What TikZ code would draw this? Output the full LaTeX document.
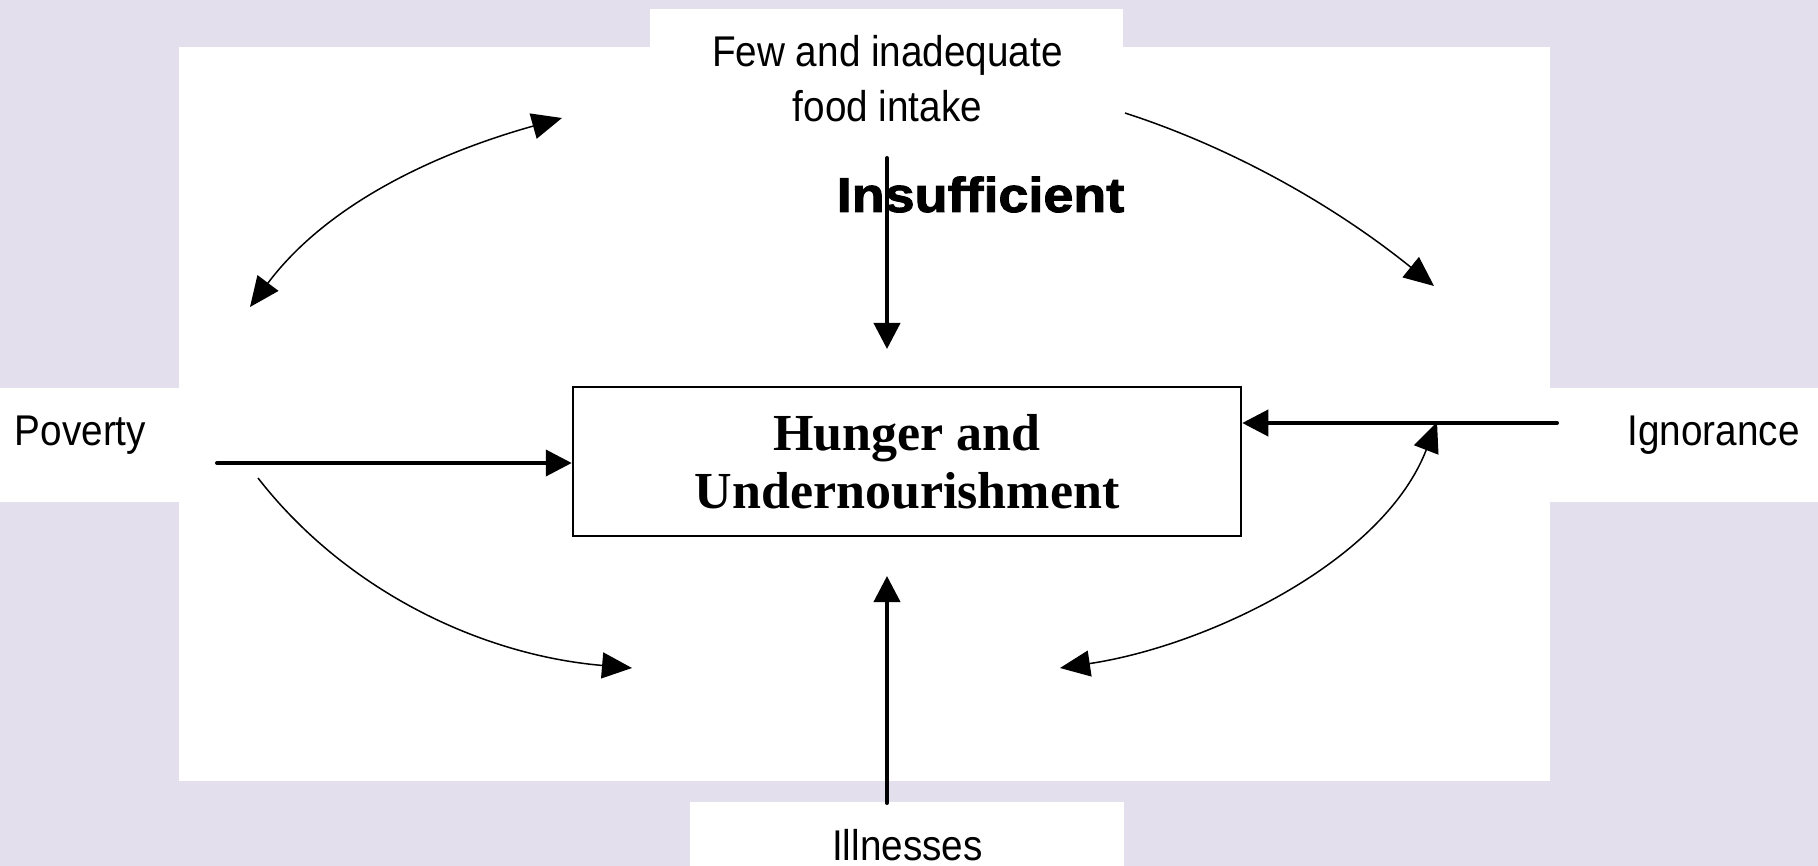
\documentclass[tikz,border=0pt]{standalone}
\usepackage{fontspec}
\setmainfont{Liberation Serif}
\newfontfamily\labfont[FakeStretch=0.9]{Liberation Sans}
\newfontfamily\insfont[FakeStretch=1.1,FakeBold=2]{Liberation Sans}
\usetikzlibrary{arrows.meta}
\definecolor{lav}{RGB}{228,223,236}
\begin{document}
\begin{tikzpicture}[x=1pt,y=-1pt,
  lab/.style={font=\labfont\fontsize{43}{55}\selectfont, inner sep=0pt, align=center},
  panel/.style={fill=white},
  mainarrow/.style={line width=4pt, line cap=round, -{Triangle[length=26pt,width=26pt,fill=black]}},
  cyc/.style={line width=1.5pt, -{Triangle[length=30pt,width=26pt,fill=black]}},
  cyctwo/.style={line width=1.5pt, {Triangle[length=30pt,width=26pt,fill=black]}-{Triangle[length=30pt,width=26pt,fill=black]}},
]
\useasboundingbox (0,0) rectangle (1818,866);
% background
\fill[lav] (0,0) rectangle (1818,866);
\fill[panel] (179,47) rectangle (1550,781);
\fill[panel] (650,9) rectangle (1123,50);
\fill[panel] (0,388) rectangle (182,502);
\fill[panel] (1547,388) rectangle (1818,502);
\fill[panel] (690,802) rectangle (1124,866);

% labels
\node[lab, anchor=base] (poverty) at (80.5,446) {Poverty};
\node[lab, anchor=base] (ignorance) at (1713.5,446) {Ignorance};
\node[lab, anchor=base] (illness) at (907.5,860) {Illnesses};
\node[lab] (food) at (887.5,79) {Few and inadequate\\food intake};
\node[font=\insfont\bfseries\fontsize{49}{55}\selectfont, inner sep=0pt, anchor=base] (insuf) at (980.5,212) {Insufficient};
\node[draw, line width=2.5pt, minimum width=668pt, minimum height=149pt, inner sep=0pt,
      align=center, font=\bfseries\fontsize{52}{58}\selectfont] (hunger) at (907,461.5) {Hunger and\\Undernourishment};

% straight arrows
\coordinate (topS) at (887,158);
\coordinate (topE) at (887,349);
\coordinate (botS) at (887,803);
\coordinate (botE) at (887,576);
\coordinate (povS) at (217,463);
\coordinate (ignS) at (1557,423);
\draw[mainarrow] (topS) -- (topE);
\draw[mainarrow] (botS) -- (botE);
\draw[mainarrow] (povS) -- (povS -| hunger.west);
\draw[mainarrow] (ignS) -- (ignS -| hunger.east);

% cycle arrows
\coordinate (tlA) at (250,307);
\coordinate (tlB) at (562,118);
\coordinate (trA) at (1125,113);
\coordinate (trB) at (1434,286);
\coordinate (blA) at (258,478);
\coordinate (blB) at (632,668);
\coordinate (brA) at (1060,668);
\coordinate (brB) at (1437,422);
\draw[cyctwo] (tlA) .. controls (328,203) and (437,153) .. (tlB);
\draw[cyc] (trA) .. controls (1239,150) and (1340,210) .. (trB);
\draw[cyc] (blA) .. controls (345,590) and (480,655) .. (blB);
\draw[cyctwo] (brA) .. controls (1207,646) and (1383,562) .. (brB);
\end{tikzpicture}
\end{document}
